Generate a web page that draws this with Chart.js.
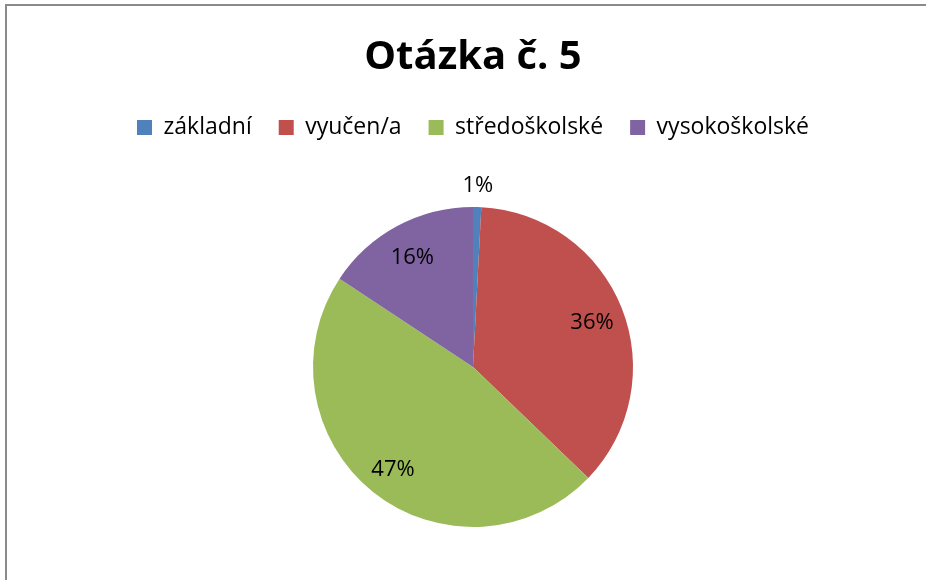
<!DOCTYPE html>
<html>
<head>
<meta charset="utf-8">
<script src="https://cdn.jsdelivr.net/npm/chart.js@4"></script>
<style>
  html, body { margin: 0; padding: 0; background: #fff; overflow: hidden; }
  #frame {
    position: absolute; left: 5px; top: 4px;
    width: 921px; height: 576px;
    border-left: 2px solid #8a8a8a; border-top: 2px solid #8a8a8a;
    overflow: visible;
  }
  #wrap { position: absolute; left: 0; top: 0; width: 932px; height: 600px; }
</style>
</head>
<body>
<div id="frame"><div id="wrap"><canvas id="pie"></canvas></div></div>
<script>
const chartTitle = 'Otázka č. 5';
const categories = ['základní', 'vyučen/a', 'středoškolské', 'vysokoškolské'];
const counts = [1, 44, 57, 19];
const sliceColors = ['#4F81BD', '#C0504D', '#9BBB59', '#8064A2'];

// percent labels: inside for normal slices, outside for tiny ones
const pctLabels = {
  id: 'pctLabels',
  afterDatasetsDraw(chart) {
    const ctx = chart.ctx;
    const meta = chart.getDatasetMeta(0);
    const data = chart.data.datasets[0].data;
    const total = data.reduce((a, b) => a + b, 0);
    ctx.save();
    ctx.font = '22px "Open Sans"';
    ctx.fillStyle = '#000';
    ctx.textAlign = 'center';
    ctx.textBaseline = 'middle';
    meta.data.forEach((arc, i) => {
      const p = arc.getProps(['x', 'y', 'startAngle', 'endAngle', 'outerRadius'], true);
      const frac = data[i] / total;
      const mid = (p.startAngle + p.endAngle) / 2;
      const r = frac < 0.05 ? p.outerRadius + 24 : p.outerRadius * 0.8;
      ctx.fillText(Math.round(frac * 100) + '%', p.x + Math.cos(mid) * r, p.y + Math.sin(mid) * r + 3);
    });
    ctx.restore();
  }
};

new Chart(document.getElementById('pie'), {
  type: 'pie',
  data: {
    labels: categories,
    datasets: [{
      data: counts,
      backgroundColor: sliceColors,
      borderWidth: 0,
      radius: 160
    }]
  },
  options: {
    responsive: true,
    maintainAspectRatio: false,
    animation: false,
    layout: { padding: { top: 0, bottom: 21, left: 0, right: 0 } },
    plugins: {
      title: {
        display: true,
        text: chartTitle,
        color: '#000',
        font: { family: 'Open Sans', size: 40, weight: 'bold' },
        padding: { top: 28, bottom: 7 }
      },
      legend: {
        position: 'top',
        labels: {
          color: '#000',
          font: { family: 'Open Sans', size: 23 },
          boxWidth: 15,
          boxHeight: 15,
          padding: 27
        }
      },
      tooltip: { enabled: false }
    }
  },
  plugins: [pctLabels]
});
</script>
</body>
</html>
